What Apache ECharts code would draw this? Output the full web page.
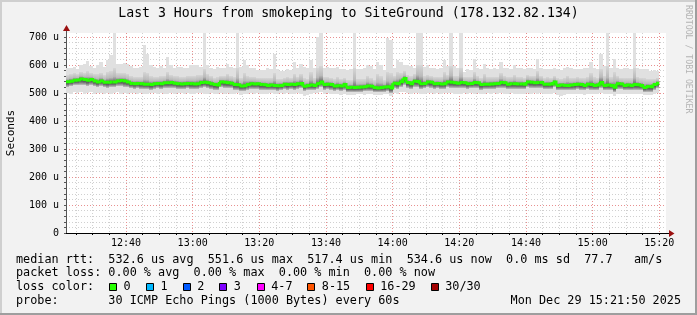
<!DOCTYPE html>
<html><head><meta charset="utf-8">
<script src="https://cdn.jsdelivr.net/npm/echarts@6/dist/echarts.min.js"></script>
<style>html,body{margin:0;padding:0;background:#f2f2f2}#c{width:697px;height:315px}</style>
</head><body><div id="c"></div>
<script>
// ---- data ----
const startLabel = '12:22';          // first minute on the time axis
const slotCount = 181;               // 12:22 .. 15:22, one slot per minute
const yTickLabels = ['0','100 u','200 u','300 u','400 u','500 u','600 u','700 u'];

const medianRtt = [540,542,545,546,550,548,545,548,543,539,
543,538,538,539,539,543,544,543,539,534,
533,534,533,531,531,530,533,534,533,536,
536,537,535,533,532,533,534,533,532,533,
537,538,536,533,530,528,539,538,536,535,
530,529,525,526,530,533,532,533,530,529,
527,528,527,526,527,531,530,531,530,533,
534,524,527,528,527,533,539,530,531,530,
525,526,525,530,519,520,519,520,521,522,
525,524,519,518,519,521,522,517.4,535,533,
540,551.6,537,533,542,541,533,534,539,538,
533,534,532,533,539,538,536,535,537,536,
533,534,537,536,530,531,531,532,533,534,
537,536,531,533,533,532,532,531,539,538,
536,537,537,531,531,532,539,527,528,527,
527,528,530,531,530,527,531,530,527,528,
537,527,528,527,520,533,532,527,528,527,
530,529,527,519,523,522,530,534.6];

const maxRtt = [590,588,592,585,598,605,615,595,590,600,
610,592,616,635,730,605,603,606,605,595,
590,588,592,670,640,600,592,588,595,590,
628,598,590,594,592,589,590,600,600,598,
592,730,600,590,586,592,588,590,605,592,
590,730,592,616,598,590,588,582,583,582,
588,587,640,585,580,578,585,583,611,590,
605,592,588,616,590,700,730,590,593,590,
588,593,585,587,583,585,730,587,587,588,
599,595,585,611,600,582,695,690,590,616,
612,599,600,595,590,730,730,592,599,590,
588,585,590,616,595,730,595,590,730,575,
585,582,622,590,585,605,590,585,588,585,
611,590,588,585,599,590,588,585,590,588,
585,622,590,585,587,585,590,585,582,588,
593,588,585,585,587,590,588,611,590,585,
640,595,730,590,622,590,585,588,590,585,
730,590,585,587,587,580,581,578];

const minRtt = [500,498,502,499,503,497,500,502,496,499,
501,498,500,497,499,502,498,500,497,501,
499,496,500,498,497,501,499,496,500,498,
497,500,498,501,499,496,500,498,497,499,
501,498,496,499,497,495,500,498,501,497,
496,499,494,497,498,500,497,499,496,498,
497,499,496,498,500,497,499,496,498,500,
498,490,493,497,499,500,502,497,499,496,
495,497,494,498,492,494,493,495,497,494,
496,495,492,494,493,495,497,490,499,497,
502,505,499,497,500,501,498,497,500,499,
497,499,498,500,501,499,497,498,496,499,
498,500,497,499,496,498,500,497,499,498,
500,498,497,499,496,498,497,495,500,498,
499,497,500,498,496,497,499,492,489,494,
495,497,498,496,497,494,498,496,495,497,
499,495,497,496,490,498,497,495,496,497,
498,496,495,491,493,494,497,499];

const lowQuartRtt = [522,525,527,528,530,529,526,529,524,521,
524,520,519,521,520,524,525,523,520,516,
515,517,515,513,514,512,515,516,514,518,
518,519,517,515,514,515,516,514,513,515,
519,520,517,515,512,510,520,519,517,516,
512,510,507,508,512,515,514,515,512,511,
510,511,509,508,510,513,512,513,512,515,
516,507,510,511,509,515,520,512,513,512,
508,509,507,512,503,504,503,504,505,506,
508,507,503,502,503,505,506,501,517,515,
522,530,519,515,523,522,515,516,520,519,
515,516,514,515,520,519,518,517,519,518,
515,516,519,518,512,513,513,514,515,516,
519,518,513,515,515,514,514,513,520,519,
518,519,519,513,513,514,520,509,510,509,
509,510,512,513,512,509,513,512,509,510,
519,509,510,509,503,515,514,509,510,509,
512,511,509,502,505,504,512,516];

const highQuartRtt = [565,568,570,566,575,572,578,570,566,568,
572,563,574,578,590,570,572,571,568,560,
557,556,558,575,570,560,558,556,562,560,
575,565,560,562,558,557,560,562,561,563,
565,585,566,560,555,558,562,561,568,560,
556,590,553,570,560,558,557,555,554,553,
552,553,570,550,551,553,556,555,568,558,
566,552,551,575,553,590,595,556,558,555,
549,556,550,552,545,547,590,548,549,550,
560,555,546,568,560,547,575,570,560,575,
572,578,565,560,566,600,598,560,563,562,
556,557,558,575,565,595,562,560,590,556,
557,556,575,561,555,566,558,556,558,557,
572,560,556,557,565,557,556,555,563,561,
559,580,561,555,556,555,562,552,551,553,
560,553,555,556,555,553,556,572,556,552,
585,560,595,556,575,560,555,553,555,552,
590,556,552,553,551,548,549,553];

const lossLabels = ['0','1','2','3','4-7','8-15','16-29','30/30'];
const lossColors = ['#26ff00','#00b8ff','#0059ff','#7e00ff','#ff00ff','#ff5500','#ff0000','#a10000'];

const titleText = 'Last 3 Hours from smokeping to SiteGround (178.132.82.134)';
const legendLines = [
  'median rtt:  532.6 us avg  551.6 us max  517.4 us min  534.6 us now  0.0 ms sd  77.7   am/s',
  'packet loss: 0.00 % avg  0.00 % max  0.00 % min  0.00 % now',
  'loss color:',
  'probe:       30 ICMP Echo Pings (1000 Bytes) every 60s'
];
const dateText = 'Mon Dec 29 15:21:50 2025';

// ---- build ----
const [sh, sm] = startLabel.split(':').map(Number);
const startMin = sh * 60 + sm;
const timeLabels = [];
for (let k = 0; k < slotCount; k++) {
  const t = startMin + k;
  timeLabels.push(String(Math.floor(t / 60)).padStart(2, '0') + ':' + String(t % 60).padStart(2, '0'));
}
const minuteOf = idx => { const p = timeLabels[idx].split(':'); return +p[1]; };

const Y_MAX = 714;
const MONO = 'DejaVu Sans Mono';
const G = { left: 66, right: 31, top: 33, bottom: 82 };

const smokeData = medianRtt.map((m, i) => [i, minRtt[i], lowQuartRtt[i], m, highQuartRtt[i], maxRtt[i]]);
const medData = medianRtt.map((m, i) => [i, m, i + 1 < medianRtt.length ? medianRtt[i + 1] : m]);

const chart = echarts.init(document.getElementById('c'), null, { renderer: 'canvas' });

const graphics = [];
// frame
graphics.push({ type: 'rect', shape: { x: 0, y: 0, width: 697, height: 2 }, style: { fill: '#cfcfcf' }, silent: true });
graphics.push({ type: 'rect', shape: { x: 0, y: 0, width: 2, height: 315 }, style: { fill: '#cfcfcf' }, silent: true });
graphics.push({ type: 'rect', shape: { x: 0, y: 313, width: 697, height: 2 }, style: { fill: '#9e9e9e' }, silent: true });
graphics.push({ type: 'rect', shape: { x: 695, y: 0, width: 2, height: 315 }, style: { fill: '#9e9e9e' }, silent: true });
// title
graphics.push({ type: 'text', x: 348.5, y: 14, style: { text: titleText, font: '13.2px "' + MONO + '"', fill: '#000', align: 'center', verticalAlign: 'middle' } });
// y-axis name
graphics.push({ type: 'text', x: 11, y: 133, rotation: Math.PI / 2, style: { text: 'Seconds', font: '11px "' + MONO + '"', fill: '#000', align: 'center', verticalAlign: 'middle' } });
// watermark
graphics.push({ type: 'text', x: 688, y: 5, rotation: -Math.PI / 2, style: { text: 'RRDTOOL / TOBI OETIKER', font: '8.2px "' + MONO + '"', fill: '#b4b4b4', align: 'left', verticalAlign: 'middle' } });
// legend lines
const lineY = [259.5, 273.3, 287, 301];
legendLines.forEach((t, k) => graphics.push({ type: 'text', x: 16, y: lineY[k], style: { text: t, font: '11.8px "' + MONO + '"', fill: '#000', align: 'left', verticalAlign: 'middle' } }));
graphics.push({ type: 'text', x: 681, y: lineY[3], style: { text: dateText, font: '11.8px "' + MONO + '"', fill: '#000', align: 'right', verticalAlign: 'middle' } });
const boxX = [109, 146, 182.7, 219.3, 256.7, 307.3, 365.7, 430.7];
lossLabels.forEach((lab, k) => {
  graphics.push({ type: 'rect', shape: { x: Math.round(boxX[k]) + 0.5, y: 283.5, width: 7, height: 7 }, style: { fill: lossColors[k], stroke: '#000', lineWidth: 1 } });
  graphics.push({ type: 'text', x: boxX[k] + 14.5, y: lineY[2], style: { text: lab, font: '11.8px "' + MONO + '"', fill: '#000', align: 'left', verticalAlign: 'middle' } });
});
// axis arrows
const plotRight = 697 - G.right;
const plotBottom = 315 - G.bottom;
graphics.push({ type: 'polygon', shape: { points: [[G.left - 3, G.top - 2], [G.left + 4, G.top - 2], [G.left + 0.5, G.top - 8]] }, style: { fill: '#9b1010' } });
graphics.push({ type: 'line', shape: { x1: G.left + 0.5, y1: G.top, x2: G.left + 0.5, y2: G.top - 2 }, style: { stroke: '#555', lineWidth: 1 } });
graphics.push({ type: 'polygon', shape: { points: [[plotRight + 3, plotBottom - 3], [plotRight + 3, plotBottom + 4], [plotRight + 8.5, plotBottom + 0.5]] }, style: { fill: '#9b1010' } });
graphics.push({ type: 'line', shape: { x1: plotRight, y1: plotBottom + 0.5, x2: plotRight + 3, y2: plotBottom + 0.5 }, style: { stroke: '#000', lineWidth: 1 } });

const every5 = (idx) => minuteOf(idx) % 5 === 0;
const every20 = (idx) => minuteOf(idx) % 20 === 0;

chart.setOption({
  backgroundColor: '#f2f2f2',
  animation: false,
  grid: { left: G.left, right: G.right, top: G.top, bottom: G.bottom, show: true, backgroundColor: '#ffffff', borderWidth: 0 },
  xAxis: {
    type: 'category', data: timeLabels, boundaryGap: false,
    axisLine: { show: true, lineStyle: { color: '#000', width: 1 } },
    axisTick: { show: true, length: 2, interval: every5, lineStyle: { color: '#000' } },
    axisLabel: { interval: every20, fontFamily: MONO, fontSize: 10, color: '#000', margin: 5 },
    splitLine: { show: true, interval: every5, lineStyle: { color: ['#d0d0d0', '#d0d0d0', '#d0d0d0', '#e89090'], type: [1, 2], width: 1 } }
  },
  yAxis: {
    type: 'value', min: 0, max: Y_MAX, interval: 20,
    axisLine: { show: true, lineStyle: { color: '#555', width: 1 } },
    axisTick: { show: true, length: 2, lineStyle: { color: '#555' } },
    axisLabel: { fontFamily: MONO, fontSize: 10, color: '#000', margin: 7, showMaxLabel: false,
      formatter: v => (v % 100 === 0 ? yTickLabels[v / 100] : '') },
    splitLine: { show: true, showMaxLine: false, lineStyle: { color: ['#e89090', '#d0d0d0', '#d0d0d0', '#d0d0d0', '#d0d0d0'], type: [1, 2], width: 1 } }
  },
  graphic: graphics,
  series: [
    {
      type: 'custom', name: 'smoke', data: smokeData, clip: true,
      encode: { x: 0, y: [1, 5] },
      renderItem: function (params, api) {
        const i = api.value(0);
        const cl = v => Math.min(v, Y_MAX);
        const x0 = Math.round(api.coord([i, 0])[0]);
        const x1 = Math.round(api.coord([i + 1, 0])[0]);
        const yLo = Math.round(api.coord([i, api.value(1)])[1]);
        const yQ1 = Math.round(api.coord([i, api.value(2)])[1]);
        const yMed = api.coord([i, api.value(3)])[1];
        const yQ3 = Math.round(api.coord([i, cl(api.value(4))])[1]);
        const yHi = Math.round(api.coord([i, cl(api.value(5))])[1]);
        const t = Math.max(0.05, Math.min(0.95, (yMed - yQ3) / Math.max(1, yQ1 - yQ3)));
        return {
          type: 'group',
          children: [
            { type: 'rect', shape: { x: x0, y: yHi, width: x1 - x0, height: yLo - yHi }, style: { fill: '#e0e0e0' } },
            { type: 'rect', shape: { x: x0, y: yQ3, width: x1 - x0, height: yQ1 - yQ3 },
              style: { fill: new echarts.graphic.LinearGradient(0, 0, 0, 1, [
                { offset: 0, color: '#d6d6d6' },
                { offset: t * 0.6, color: '#bababa' },
                { offset: t * 0.9, color: '#7a7a7a' },
                { offset: t, color: '#3c3c3c' },
                { offset: t + (1 - t) * 0.5, color: '#6e6e6e' },
                { offset: 1, color: '#c0c0c0' }]) } }
          ]
        };
      }
    },
    {
      type: 'custom', name: 'median', data: medData, z: 5,
      encode: { x: 0, y: 1 },
      renderItem: function (params, api) {
        const i = api.value(0);
        const x0 = api.coord([i, 0])[0];
        const x1 = api.coord([i + 1, 0])[0];
        const y = api.coord([i, api.value(1)])[1];
        const yn = api.coord([i, api.value(2)])[1];
        return { type: 'polyline', shape: { points: [[x0, y], [x1, y], [x1, yn]] },
          style: { stroke: lossColors[0], lineWidth: 3, fill: null, lineJoin: 'miter', lineCap: 'butt' } };
      }
    }
  ]
});
</script></body></html>
